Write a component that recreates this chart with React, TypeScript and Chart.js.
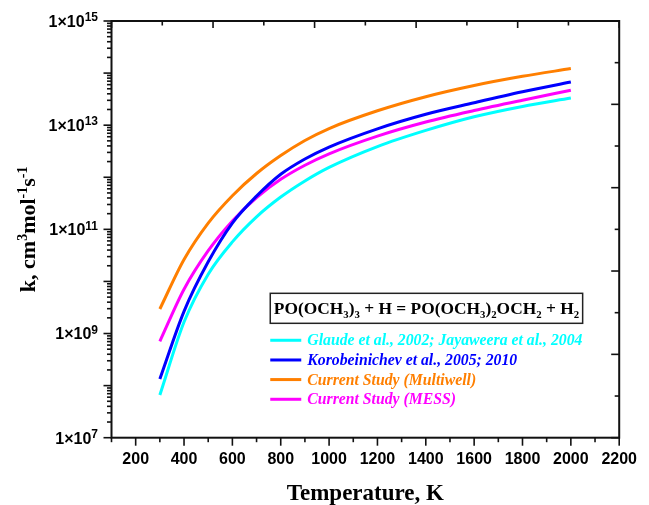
import React, { useEffect, useRef } from 'react';
import { Chart, registerables } from 'chart.js';

Chart.register(...registerables);

// ---- data ----
const temperatures = [300, 400, 500, 600, 700, 800, 900, 1000, 1200, 1400, 1600, 1800, 2000];
const glaude = [6.61e7, 1.66e9, 1.38e10, 5.75e10, 1.74e11, 4.17e11, 8.51e11, 1.55e12, 3.89e12, 7.94e12, 1.45e13, 2.29e13, 3.31e13];
const korobeinichev = [1.34e8, 2.67e9, 2.38e10, 1.32e11, 4.34e11, 1.14e12, 2.24e12, 3.8e12, 8.51e12, 1.62e13, 2.69e13, 4.37e13, 6.76e13];
const multiwell = [2.96e9, 2.64e10, 1.32e11, 4.43e11, 1.18e12, 2.61e12, 5.08e12, 8.63e12, 1.89e13, 3.52e13, 5.78e13, 8.67e13, 1.22e14];
const mess = [7.08e8, 7.08e9, 3.89e10, 1.45e11, 4.07e11, 9.12e11, 1.7e12, 2.82e12, 6.17e12, 1.15e13, 1.91e13, 3.02e13, 4.68e13];

const seriesLabels = [
  'Glaude et al., 2002; Jayaweera et al., 2004',
  'Korobeinichev et al., 2005; 2010',
  'Current Study (Multiwell)',
  'Current Study (MESS)',
];
const seriesValues = [glaude, korobeinichev, multiwell, mess];
const seriesColors = ['#00FFFF', '#0000FF', '#FF7F00', '#FF00FF'];

const xTickValues = [200, 400, 600, 800, 1000, 1200, 1400, 1600, 1800, 2000, 2200];
const yTickExponents = [7, 9, 11, 13, 15];
const xTitle = 'Temperature, K';
// [text, isSuperscript]
const yTitleParts: [string, boolean][] = [
  ['k, cm', false], ['3', true], ['mol', false], ['-1', true], ['s', false], ['-1', true],
];
// [text, isSubscript]
const legendTitleParts: [string, boolean][] = [
  ['PO(OCH', false], ['3', true], [')', false], ['3', true],
  [' + H = PO(OCH', false], ['3', true], [')', false], ['2', true],
  ['OCH', false], ['2', true], [' + H', false], ['2', true],
];

const SANS = '"Liberation Sans", Arial, sans-serif';
const SERIF = '"Liberation Serif", "Times New Roman", serif';

const framePlugin = {
  id: 'frameAndLegend',
  afterDraw(chart: any) {
    const { ctx, chartArea: ca } = chart;
    const x = chart.scales.x;
    const y = chart.scales.y;
    const x2 = chart.scales.x2;
    const y2 = chart.scales.y2;
    const line = (x1: number, y1: number, x2p: number, y2p: number) => {
      ctx.beginPath();
      ctx.moveTo(x1, y1);
      ctx.lineTo(x2p, y2p);
      ctx.stroke();
    };
    ctx.save();
    ctx.strokeStyle = '#111';
    ctx.lineWidth = 2;
    ctx.strokeRect(ca.left, ca.top, ca.right - ca.left, ca.bottom - ca.top);
    ctx.lineWidth = 1.6;
    // left axis: log ticks (outward)
    for (let d = 7; d <= 15; d++) {
      const py = y.getPixelForValue(Math.pow(10, d));
      line(ca.left - 8, py, ca.left, py);
      if (d < 15) {
        for (let m = 2; m <= 9; m++) {
          const pm = y.getPixelForValue(m * Math.pow(10, d));
          line(ca.left - 4.5, pm, ca.left, pm);
        }
      }
    }
    // bottom axis (outward)
    for (let t = 100; t <= 2200; t += 100) {
      const px = x.getPixelForValue(t);
      const len = t % 200 === 0 ? 8 : 4.5;
      line(px, ca.bottom, px, ca.bottom + len);
    }
    // top axis (inward)
    for (let i = 0; i <= 10; i++) {
      const px = x2.getPixelForValue(i);
      const len = i % 2 === 0 ? 7 : 4.5;
      line(px, ca.top, px, ca.top + len);
    }
    // right axis (inward)
    for (let i = 0; i <= 10; i++) {
      const py = y2.getPixelForValue(i);
      const len = i % 2 === 0 ? 8 : 4.5;
      line(ca.right - len, py, ca.right, py);
    }

    // ---- y tick labels 1×10^n ----
    ctx.fillStyle = '#000';
    ctx.textAlign = 'left';
    ctx.textBaseline = 'alphabetic';
    const labelRight = ca.left - 13.5;
    yTickExponents.forEach((e) => {
      const py = y.getPixelForValue(Math.pow(10, e));
      const expText = String(e);
      ctx.font = `bold 12px ${SANS}`;
      const ew = ctx.measureText(expText).width;
      ctx.font = `bold 16px ${SANS}`;
      const bw = ctx.measureText('1×10').width;
      const bx = labelRight - ew - bw;
      ctx.fillText('1×10', bx, py + 5.8);
      ctx.font = `bold 12px ${SANS}`;
      ctx.fillText(expText, bx + bw, py + 0.2);
    });

    // ---- y axis title with superscripts ----
    {
      const fs = 22;
      const ss = 14;
      let total = 0;
      for (const [t, sup] of yTitleParts) {
        ctx.font = `bold ${sup ? ss : fs}px ${SERIF}`;
        total += ctx.measureText(t).width;
      }
      ctx.save();
      ctx.translate(28, (ca.top + ca.bottom) / 2);
      ctx.rotate(-Math.PI / 2);
      let tx = -total / 2;
      for (const [t, sup] of yTitleParts) {
        ctx.font = `bold ${sup ? ss : fs}px ${SERIF}`;
        ctx.fillText(t, tx, sup ? 7 - 8.5 : 7);
        tx += ctx.measureText(t).width;
      }
      ctx.restore();
    }

    // ---- legend ----
    const W = ca.right - ca.left;
    const H = ca.bottom - ca.top;
    const boxL = ca.left + W * 0.3127;
    const boxR = ca.left + W * 0.928;
    const boxT = ca.top + H * 0.6535;
    const boxB = ca.top + H * 0.7255;
    ctx.lineWidth = 1.5;
    ctx.strokeStyle = '#222';
    ctx.strokeRect(boxL, boxT, boxR - boxL, boxB - boxT);

    const base = 20;
    const measure = (size: number) => {
      let w = 0;
      for (const [t, sub] of legendTitleParts) {
        ctx.font = `bold ${sub ? size * 0.62 : size}px ${SERIF}`;
        w += ctx.measureText(t).width;
      }
      return w;
    };
    const targetW = boxR - boxL - 7;
    const fsz = Math.min(22, (base * targetW) / measure(base));
    let tx = boxL + (boxR - boxL - measure(fsz)) / 2;
    const baseY = boxT + (boxB - boxT) / 2 + fsz * 0.33;
    ctx.fillStyle = '#000';
    ctx.textBaseline = 'alphabetic';
    ctx.textAlign = 'left';
    for (const [t, sub] of legendTitleParts) {
      ctx.font = `bold ${sub ? fsz * 0.62 : fsz}px ${SERIF}`;
      ctx.fillText(t, tx, sub ? baseY + fsz * 0.22 : baseY);
      tx += ctx.measureText(t).width;
    }

    const rows = [0.7662, 0.8135, 0.8605, 0.9078];
    const itemBase = 16;
    ctx.font = `italic bold ${itemBase}px ${SERIF}`;
    const w0 = ctx.measureText(seriesLabels[0]).width;
    const isz = Math.min(18, (itemBase * (boxR - (boxL + 37))) / w0);
    ctx.font = `italic bold ${isz}px ${SERIF}`;
    ctx.textBaseline = 'middle';
    seriesLabels.forEach((label, i) => {
      const ry = ca.top + H * rows[i];
      ctx.strokeStyle = seriesColors[i];
      ctx.lineWidth = 3;
      line(boxL, ry, boxL + 31, ry);
      ctx.fillStyle = seriesColors[i];
      ctx.fillText(label, boxL + 37, ry + 1);
    });
    ctx.restore();
  },
};

export default function App() {
  const ref = useRef<HTMLCanvasElement | null>(null);

  useEffect(() => {
    if (!ref.current) return;
    const tickFont = { family: SANS, size: 16, weight: 'bold' as const };
    const chart = new Chart(ref.current, {
      type: 'line',
      data: {
        datasets: seriesValues.map((vals, i) => ({
          label: seriesLabels[i],
          data: temperatures.map((t, j) => ({ x: t, y: vals[j] })),
          borderColor: seriesColors[i],
          backgroundColor: seriesColors[i],
          borderWidth: 3,
          pointRadius: 0,
          cubicInterpolationMode: 'monotone' as const,
          xAxisID: 'x',
          yAxisID: 'y',
        })),
      },
      options: {
        animation: false,
        responsive: false,
        devicePixelRatio: 1,
        layout: { padding: 0 },
        plugins: { legend: { display: false }, tooltip: { enabled: false } },
        scales: {
          x: {
            type: 'linear',
            position: 'bottom',
            min: 100,
            max: 2200,
            afterBuildTicks: (s: any) => {
              s.ticks = xTickValues.map((v) => ({ value: v }));
            },
            afterFit: (s: any) => {
              s.height = 67.3;
            },
            ticks: {
              autoSkip: false,
              maxRotation: 0,
              padding: 12,
              color: '#000',
              font: tickFont,
              callback: (v: any) => String(v),
            },
            grid: { display: false, drawTicks: false },
            border: { display: false },
            title: {
              display: true,
              text: xTitle,
              color: '#000',
              font: { family: SERIF, size: 23, weight: 'bold' },
              padding: { top: 0, bottom: -3 },
            },
          },
          y: {
            type: 'logarithmic',
            position: 'left',
            min: 1e7,
            max: 1e15,
            afterBuildTicks: (s: any) => {
              s.ticks = yTickExponents.map((e) => ({ value: Math.pow(10, e) }));
            },
            afterFit: (s: any) => {
              s.width = 111.5;
            },
            ticks: { display: false },
            grid: { display: false, drawTicks: false },
            border: { display: false },
          },
          x2: {
            type: 'linear',
            position: 'top',
            display: true,
            min: 0,
            max: 10,
            ticks: { display: false },
            grid: { display: false, drawTicks: false },
            border: { display: false },
            afterFit: (s: any) => {
              s.height = 21;
            },
          },
          y2: {
            type: 'linear',
            position: 'right',
            display: true,
            min: 0,
            max: 10,
            ticks: { display: false },
            grid: { display: false, drawTicks: false },
            border: { display: false },
            afterFit: (s: any) => {
              s.width = 20;
            },
          },
        },
      } as any,
      plugins: [framePlugin],
    });
    return () => chart.destroy();
  }, []);

  return (
    <div style={{ position: 'fixed', left: 0, top: 0, width: 649, height: 505, background: '#fff' }}>
      <canvas ref={ref} width={649} height={505} />
    </div>
  );
}
